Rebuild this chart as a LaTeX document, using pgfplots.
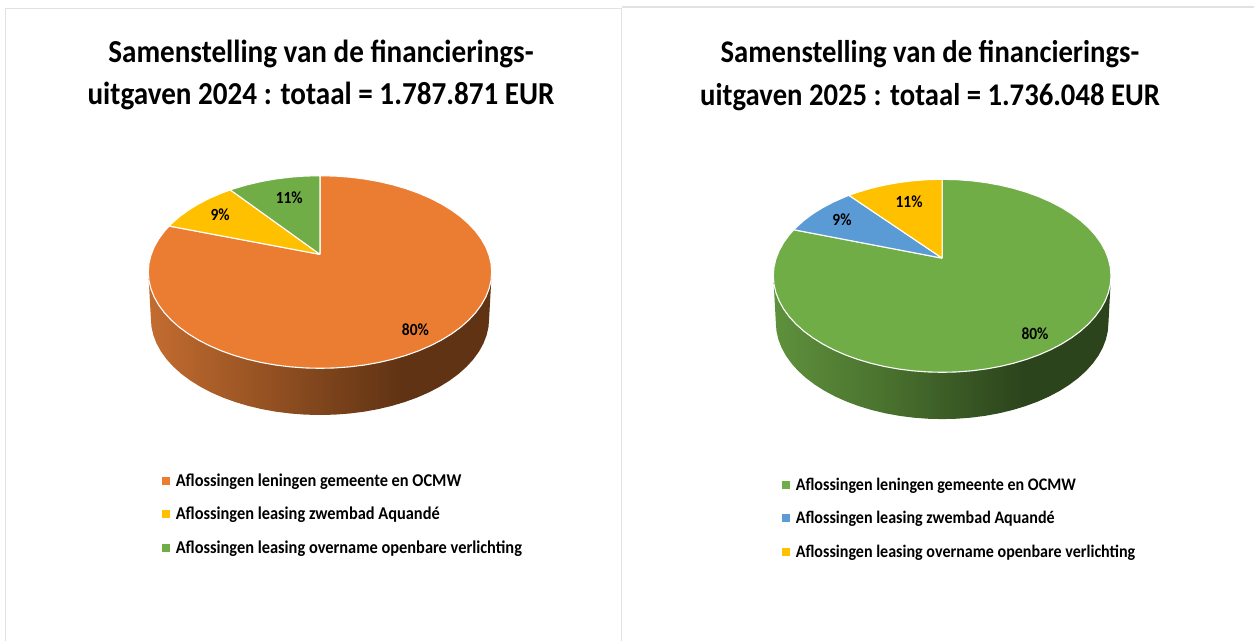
\documentclass[border=0pt]{standalone}
\usepackage{fontspec}
\setmainfont{Carlito}[FakeStretch=0.91]
\usepackage{pgfplots}
\usepackage{pgfplotstable}
\pgfplotsset{compat=1.18}

\definecolor{pieorange}{HTML}{EA7D32}
\definecolor{pieyellow}{HTML}{FFC000}
\definecolor{piegreen}{HTML}{70AD47}
\definecolor{pieblue}{HTML}{5B9BD5}
\definecolor{panelline}{RGB}{226,226,226}
\definecolor{oa}{RGB}{195,108,48}
\definecolor{ob}{RGB}{155,85,36}
\definecolor{oc}{RGB}{122,66,27}
\definecolor{od}{RGB}{96,51,20}
\definecolor{ga}{RGB}{94,145,60}
\definecolor{gb}{RGB}{76,117,48}
\definecolor{gc}{RGB}{58,90,37}
\definecolor{gd}{RGB}{44,68,28}

% side wall gradients (path box runs from 25bp to 75bp)
\pgfdeclarehorizontalshading{wallorange}{100bp}{
  color(0bp)=(oa); color(25bp)=(oa); color(40bp)=(ob);
  color(52bp)=(oc); color(62bp)=(od); color(75bp)=(od); color(100bp)=(od)}
\pgfdeclarehorizontalshading{wallgreen}{100bp}{
  color(0bp)=(ga); color(25bp)=(ga); color(40bp)=(gb);
  color(52bp)=(gc); color(62bp)=(gd); color(75bp)=(gd); color(100bp)=(gd)}

% outline of the pie, on a top face running from -1 to 1 on both axes
\pgfplotstableread{
x y
0 .183
0 1
.0872 .9962
.1736 .9848
.2588 .9659
.3420 .9397
.4226 .9063
.5 .8660
.5736 .8192
.6428 .7660
.7071 .7071
.7660 .6428
.8192 .5736
.8660 .5
.9063 .4226
.9397 .3420
.9659 .2588
.9848 .1736
.9962 .0872
1 0
.9962 -.0872
.9848 -.1736
.9659 -.2588
.9397 -.3420
.9063 -.4226
.8660 -.5
.8192 -.5736
.7660 -.6428
.7071 -.7071
.6428 -.7660
.5736 -.8192
.5 -.8660
.4226 -.9063
.3420 -.9397
.2588 -.9659
.1736 -.9848
.0872 -.9962
0 -1
-.0872 -.9962
-.1736 -.9848
-.2588 -.9659
-.3420 -.9397
-.4226 -.9063
-.5 -.8660
-.5736 -.8192
-.6428 -.7660
-.7071 -.7071
-.7660 -.6428
-.8192 -.5736
-.8660 -.5
-.9063 -.4226
-.9397 -.3420
-.9659 -.2588
-.9848 -.1736
-.9962 -.0872
-1 0
-.9962 .0872
-.9848 .1736
-.9659 .2588
-.9397 .3420
-.9063 .4226
-.8788 .4772
0 .183
}\bigslice

\pgfplotstableread{
x y
0 .183
-.8788 .4772
-.8660 .5
-.8192 .5736
-.7660 .6428
-.7071 .7071
-.6428 .7660
-.5736 .8192
-.5225 .8526
0 .183
}\midslicea

\pgfplotstableread{
x y
0 .183
-.5225 .8526
-.5 .8660
-.4226 .9063
-.3420 .9397
-.2588 .9659
-.1736 .9848
-.0872 .9962
0 1
0 .183
}\smallslicea

\pgfplotstableread{
x y
0 .183
-.8788 .4772
-.8660 .5
-.8192 .5736
-.7660 .6428
-.7071 .7071
-.6428 .7660
-.5736 .8192
-.5519 .8339
0 .183
}\midsliceb

\pgfplotstableread{
x y
0 .183
-.5519 .8339
-.5 .8660
-.4226 .9063
-.3420 .9397
-.2588 .9659
-.1736 .9848
-.0872 .9962
0 1
0 .183
}\smallsliceb

% wall: rim of the top face one way, bottom edge back
\pgfplotstableread{
x y
-1 0
-.9659 -.2588
-.8660 -.5
-.7071 -.7071
-.5 -.8660
-.2588 -.9659
0 -1
.2588 -.9659
.5 -.8660
.7071 -.7071
.8660 -.5
.9659 -.2588
1 0
.985 -.485
.9813 -.5722
.9700 -.6586
.9514 -.7438
.9256 -.8270
.8927 -.9076
.8530 -.985
.8069 -1.0586
.7545 -1.1278
.6965 -1.1921
.6332 -1.2510
.5650 -1.3042
.4925 -1.3510
.4163 -1.3913
.3369 -1.4247
.2549 -1.4509
.1710 -1.4698
.0859 -1.4812
0 -1.485
-.0859 -1.4812
-.1710 -1.4698
-.2549 -1.4509
-.3369 -1.4247
-.4163 -1.3913
-.4925 -1.3510
-.5650 -1.3042
-.6332 -1.2510
-.6965 -1.1921
-.7545 -1.1278
-.8069 -1.0586
-.8530 -.985
-.8927 -.9076
-.9256 -.8270
-.9514 -.7438
-.9700 -.6586
-.9813 -.5722
-.985 -.485
-1 0
}\wall

\pgfplotstableread{
x y share
.556 -.597 80
-.582 .592 9
-.179 .776 11
}\sharesa

\pgfplotstableread{
x y share
.550 -.596 80
-.593 .578 9
-.196 .768 11
}\sharesb

\pgfplotsset{
  pie/.style={
    scale only axis, hide axis, clip=false,
    anchor=south west,
    xmin=-1, xmax=1, ymin=-1, ymax=1,
    title style={align=center, anchor=center},
    legend cell align=left,
    legend image code/.code={\fill[##1,draw=none] (0pt,-4pt) rectangle (8pt,4pt); \path (13pt,0pt);},
    legend style={draw=none, fill=none, anchor=north west, inner sep=0pt,
      row sep=19.6pt, nodes={inner sep=0pt}},
  },
  slice/.style={draw=white, line width=1.1pt, fill=#1, mark=none},
  labels/.style={draw=none, mark=none, forget plot, point meta=explicit symbolic,
    nodes near coords={\pgfplotspointmeta\%},
    nodes near coords style={anchor=center, inner sep=0pt, text=black,
      font=\fontsize{17}{19}\selectfont\bfseries}},
}

\begin{document}
\begin{tikzpicture}[x=1pt,y=1pt]
\useasboundingbox (0,0) rectangle (1254,641);
\draw[panelline, line width=1.6pt] (5.5,0) -- (5.5,632.5) -- (621.5,632.5) -- (621.5,0);
\draw[panelline, line width=1.6pt] (621.5,634) -- (1254,634);

\begin{axis}[pie, at={(148.3pt,272.7pt)}, width=343.4pt, height=192.6pt,
    title={Samenstelling van de financierings-\\uitgaven 2024 : totaal = 1.787.871 EUR},
    title style={at={(0.503,1.491)}, font=\fontsize{32}{42.5}\selectfont\bfseries},
    legend style={at={(0.04,-0.545)}, font=\fontsize{18}{20}\selectfont\bfseries}]
  \addplot[forget plot, draw=none, shade, shading=wallorange, mark=none] table {\wall};
  \addplot[slice=pieorange] table {\bigslice};
  \addplot[slice=pieyellow] table {\midslicea};
  \addplot[slice=piegreen] table {\smallslicea};
  \addplot[labels] table[meta=share] {\sharesa};
  \legend{Aflossingen leningen gemeente en OCMW,
          Aflossingen leasing zwembad Aquandé,
          Aflossingen leasing overname openbare verlichting}
\end{axis}

\begin{axis}[pie, at={(773.3pt,268.7pt)}, width=337.7pt, height=193pt,
    title={Samenstelling van de financierings-\\uitgaven 2025 : totaal = 1.736.048 EUR},
    title style={at={(0.464,1.507)}, font=\fontsize{31.5}{42.5}\selectfont\bfseries},
    legend style={at={(0.026,-0.545)}, font=\fontsize{17.65}{20}\selectfont\bfseries}]
  \addplot[forget plot, draw=none, shade, shading=wallgreen, mark=none] table {\wall};
  \addplot[slice=piegreen] table {\bigslice};
  \addplot[slice=pieblue] table {\midsliceb};
  \addplot[slice=pieyellow] table {\smallsliceb};
  \addplot[labels] table[meta=share] {\sharesb};
  \legend{Aflossingen leningen gemeente en OCMW,
          Aflossingen leasing zwembad Aquandé,
          Aflossingen leasing overname openbare verlichting}
\end{axis}
\end{tikzpicture}
\end{document}
